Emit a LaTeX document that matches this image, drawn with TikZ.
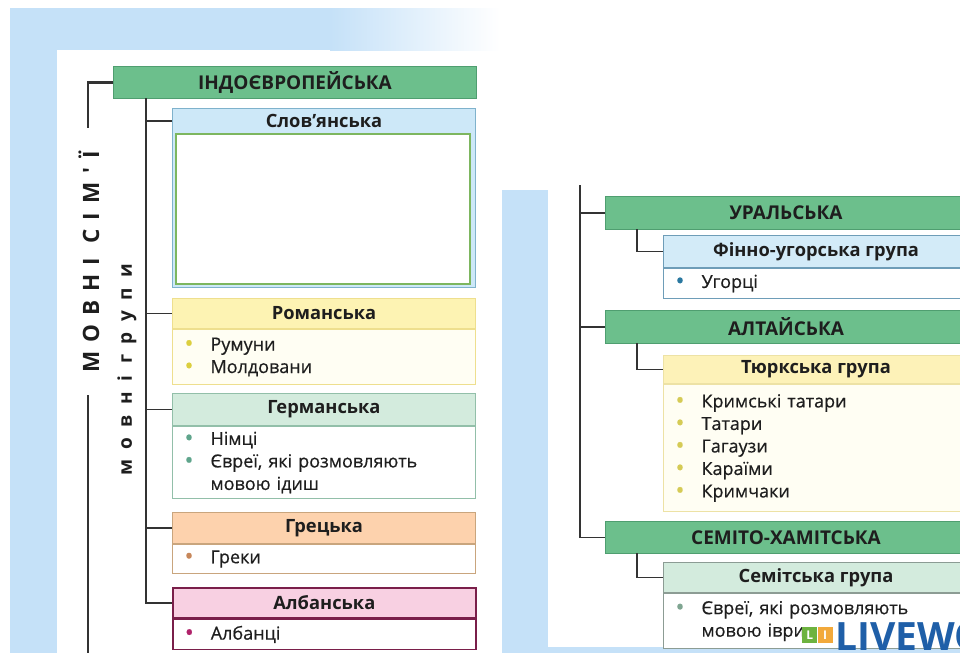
\documentclass[tikz,border=0pt]{standalone}
\usepackage{fontspec}
\setmainfont{Open Sans}
\newfontfamily\itemfont{Open Sans}[FakeBold=0.5]
\newfontfamily\vfont{Open Sans}[LetterSpace=40]
\newfontfamily\vfontb{Open Sans}[LetterSpace=55]
\definecolor{bgblue}{HTML}{C5E1F8}
\definecolor{famg}{HTML}{6CBF8C}
\definecolor{famgd}{HTML}{4F9E70}
\definecolor{slavf}{HTML}{CDE8F8}
\definecolor{slavd}{HTML}{7FB2CC}
\definecolor{slavg}{HTML}{7DB65F}
\definecolor{romf}{HTML}{FDF3B3}
\definecolor{romd}{HTML}{EEDF8E}
\definecolor{romb}{HTML}{DCCF3E}
\definecolor{romw}{HTML}{FFFEF3}
\definecolor{gerf}{HTML}{D3EBDD}
\definecolor{gerd}{HTML}{92BFA9}
\definecolor{gerb}{HTML}{5FA58C}
\definecolor{grf}{HTML}{FDD2AD}
\definecolor{grd}{HTML}{C9A57D}
\definecolor{grb}{HTML}{C7875A}
\definecolor{alf}{HTML}{F8D0E2}
\definecolor{ald}{HTML}{7A1F4A}
\definecolor{alb}{HTML}{B0226A}
\definecolor{fuf}{HTML}{D3EBF8}
\definecolor{fud}{HTML}{6E9DB8}
\definecolor{fub}{HTML}{2A78A0}
\definecolor{tuf}{HTML}{FDF2B8}
\definecolor{tud}{HTML}{EDE2A5}
\definecolor{tub}{HTML}{D5CB55}
\definecolor{sef}{HTML}{D3EBDD}
\definecolor{sed}{HTML}{8C9C94}
\definecolor{seb}{HTML}{7FA591}
\definecolor{linec}{HTML}{333333}
\definecolor{txt}{HTML}{1E1E1E}
\definecolor{logoblue}{HTML}{1F5FA8}
\definecolor{logogreen}{HTML}{6DB33F}
\definecolor{logoorange}{HTML}{F2A93B}
\newcommand\bl[2]{\makebox[26pt][l]{\raisebox{-1.2pt}{\textcolor{#1}{\fontsize{24}{22.5}\selectfont •}}}#2}
\tikzset{
  fam/.style={draw=famgd, fill=famg, line width=1pt, inner sep=0pt, anchor=north west,
    font=\fontsize{19}{20}\selectfont\bfseries, text=txt},
  ghdr/.style={line width=1pt, inner sep=0pt, anchor=north west,
    font=\fontsize{18.3}{20}\selectfont\bfseries, text=txt},
  gbody/.style={line width=1pt, fill=white, inner xsep=12pt, inner ysep=0pt, anchor=north west,
    align=left, font=\itemfont\fontsize{18}{22.5}\selectfont, text=txt},
  conn/.style={draw=linec, line width=1.8pt},
  vtext/.style={rotate=90, inner sep=0pt, text=txt},
}
\begin{document}
\begin{tikzpicture}[x=1pt,y=-1pt]
\useasboundingbox (0,0) rectangle (960,653);
\clip (0,0) rectangle (960,653);
\fill[white] (0,0) rectangle (960,653);
% backgrounds
\fill[bgblue] (10,8) rectangle (57,653);
\fill[bgblue] (57,8) rectangle (330,50);
\shade[left color=bgblue, right color=white] (330,8) rectangle (500,50);
\fill[bgblue] (502,190) rectangle (548,653);
\fill[bgblue] (502,647) rectangle (960,653);

% ---------- left panel ----------
\node[fam, minimum width=363pt, minimum height=32pt] (indo) at (113,66) {ІНДОЄВРОПЕЙСЬКА};

% Slavic
\node[ghdr, draw=slavd, fill=slavf, minimum width=303pt, minimum height=179pt] (slavo) at (172,108) {};
\node[ghdr, minimum width=303pt, minimum height=25pt] (slavh) at (172,108) {Слов'янська};
\node[draw=slavg, fill=white, line width=1.8pt, inner sep=0pt, anchor=north west,
  minimum width=294pt, minimum height=150pt] (slavb) at (175,133) {};

% Romance
\node[ghdr, draw=romd, fill=romf, minimum width=303pt, minimum height=30pt] (romh) at (172,298) {Романська};
\node[gbody, draw=romd, fill=romw, minimum width=303pt, text width=279pt, minimum height=55pt] (romb) at (romh.south west)
  {\bl{romb}{Румуни}\\\bl{romb}{Молдовани}};

% Germanic
\node[ghdr, draw=gerd, fill=gerf, minimum width=303pt, minimum height=32pt] (gerh) at (172,393) {Германська};
\node[gbody, draw=gerd, minimum width=303pt, text width=279pt, minimum height=72pt] (gerb) at (gerh.south west)
  {\bl{gerb}{Німці}\\\bl{gerb}{Євреї, які розмовляють}\\\hspace*{26pt}мовою ідиш};

% Greek
\node[ghdr, draw=grd, fill=grf, minimum width=303pt, minimum height=31pt] (grh) at (172,512) {Грецька};
\node[gbody, draw=grd, minimum width=303pt, text width=279pt, minimum height=29pt] (grb) at (grh.south west)
  {\bl{grb}{Греки}};

% Albanian
\node[ghdr, draw=ald, fill=alf, line width=1.6pt, minimum width=303pt, minimum height=30pt] (alh) at (172,587) {Албанська};
\node[gbody, draw=ald, line width=1.6pt, minimum width=303pt, text width=279pt, minimum height=30pt] (alb) at (alh.south west)
  {\bl{alb}{Албанці}};

% vertical labels
\node[vtext, font=\vfont\bfseries\fontsize{22.5}{24}\selectfont] (mfam) at (89,262) {МОВНІ\hspace{14pt}СІМ'Ї};
\node[vtext, font=\vfontb\bfseries\fontsize{19}{20}\selectfont] (mgrp) at (127,370) {мовні\hspace{12pt}групи};

% connectors left
\coordinate (o1) at (88,128);
\coordinate (o2) at (88,395);
\coordinate (o3) at (88,653);
\draw[conn, line width=2.2pt] (indo.west) -| (o1);
\draw[conn, line width=2.2pt] (o2) -- (o3);
\coordinate (i0) at (146,98);
\draw[conn] (i0) |- (alh.west);
\draw[conn] (slavh.west -| i0) -- (slavh.west);
\draw[conn] (romh.west -| i0) -- (romh.west);
\draw[conn] (gerh.west -| i0) -- (gerh.west);
\draw[conn] (grh.west -| i0) -- (grh.west);

% ---------- right panel ----------
\node[fam, minimum width=361pt, minimum height=33pt] (ural) at (605,196) {УРАЛЬСЬКА};
\node[ghdr, draw=fud, fill=fuf, minimum width=305pt, minimum height=32pt] (fuh) at (663,235) {Фінно-угорська група};
\node[gbody, draw=fud, minimum width=305pt, text width=281pt, minimum height=30pt] (fub) at (fuh.south west)
  {\bl{fub}{Угорці}};

\node[fam, minimum width=361pt, minimum height=33pt] (alt) at (605,310) {АЛТАЙСЬКА};
\node[ghdr, draw=tud, fill=tuf, minimum width=305pt, minimum height=28pt] (tuh) at (663,355) {Тюркська група};
\node[gbody, draw=tud, fill=romw, minimum width=305pt, text width=281pt, minimum height=127pt] (tub) at (tuh.south west)
  {\bl{tub}{Кримські татари}\\\bl{tub}{Татари}\\\bl{tub}{Гагаузи}\\\bl{tub}{Караїми}\\\bl{tub}{Кримчаки}};

\node[fam, minimum width=361pt, minimum height=32pt] (semf) at (605,521) {СЕМІТО-ХАМІТСЬКА};
\node[ghdr, draw=sed, fill=sef, minimum width=305pt, minimum height=30pt] (seh) at (663,562) {Семітська група};
\node[gbody, draw=sed, minimum width=305pt, text width=281pt, minimum height=55pt] (seb) at (seh.south west)
  {\bl{seb}{Євреї, які розмовляють}\\\hspace*{26pt}мовою іврит};

% connectors right
\coordinate (r0) at (580,185);
\draw[conn] (r0) |- (semf.west);
\draw[conn] (ural.west -| r0) -- (ural.west);
\draw[conn] (alt.west -| r0) -- (alt.west);
\coordinate (u1) at (637,229);
\coordinate (a1) at (637,343);
\coordinate (s1) at (637,553);
\draw[conn] (u1) |- (fuh.west);
\draw[conn] (a1) |- (tuh.west);
\draw[conn] (s1) |- (seh.west);

% logo watermark
\node[fill=logogreen, text=white, inner sep=0pt, minimum width=15pt, minimum height=16pt, anchor=north west,
  font=\fontsize{12}{12}\selectfont\bfseries] (lg1) at (802,627) {L};
\node[fill=logoorange, text=white, inner sep=0pt, minimum width=15pt, minimum height=16pt, anchor=north west,
  font=\fontsize{12}{12}\selectfont\bfseries] (lg2) at (lg1.north east) {I};
\node[anchor=north west, inner sep=0pt, text=logoblue, font=\fontsize{39}{40}\selectfont\bfseries] (lg3) at (835,622) {LIVEWO};
\end{tikzpicture}
\end{document}
